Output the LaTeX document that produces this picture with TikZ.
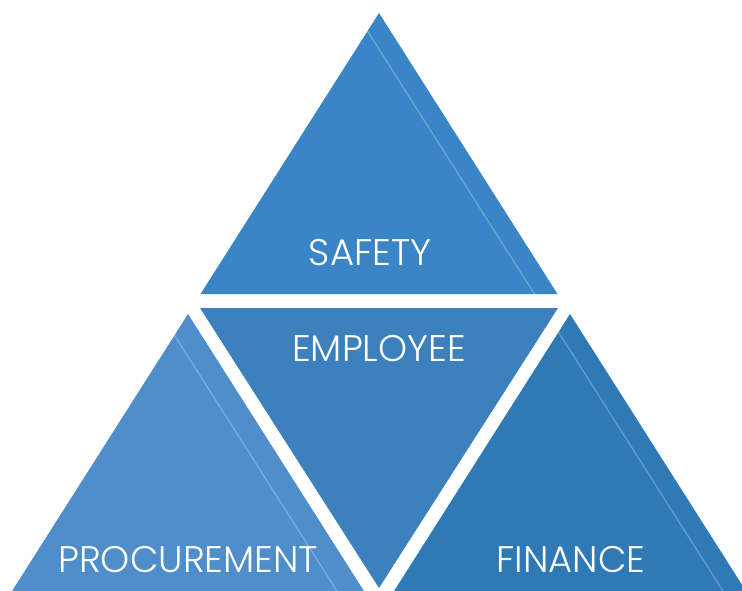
\documentclass[tikz,border=0pt]{standalone}
\usepackage{fontspec}
\setmainfont{Poppins}[UprightFont=* Light]
\usetikzlibrary{calc}
\definecolor{topblue}{HTML}{3985C6}
\definecolor{midblue}{HTML}{3C81BD}
\definecolor{leftblue}{HTML}{508ECB}
\definecolor{rightblue}{HTML}{2E79B6}
% apex x, apex y, colour, offset of the light line
\newcommand{\uptri}[4]{\fill[#3] (#1,#2) -- ++(-178.5,281) -- ++(357,0) -- cycle;
  \draw[white,opacity=0.25,line width=1.4pt] ($(#1,#2)+(-#4,0)+(11.4,18)$) -- ($(#1,#2)+(178.5-#4,281)$);}
\newcommand{\downtri}[3]{\fill[#3] (#1,#2) -- ++(-179,-280) -- ++(358,0) -- cycle;}
\newcommand{\lbl}[4]{\node[tritext] (#1) at (#2,#3) {#4};}
\tikzset{tritext/.style={text=white,font=\fontsize{37}{37}\selectfont,inner sep=0pt}}

\begin{document}
\begin{tikzpicture}[x=1pt,y=-1pt]
    \useasboundingbox (0,0) rectangle (742,590);
    \clip (0,0) rectangle (742,590);
    \uptri{379}{13}{topblue}{23}
    \downtri{379}{588}{midblue}
    \uptri{188}{314}{leftblue}{27}
    \uptri{570}{314}{rightblue}{23}
    \lbl{safety}{370}{253}{SAFETY}
    \lbl{employee}{379}{349}{EMPLOYEE}
    \lbl{procurement}{188}{560}{PROCUREMENT}
    \lbl{finance}{571}{560}{FINANCE}
\end{tikzpicture}
\end{document}
